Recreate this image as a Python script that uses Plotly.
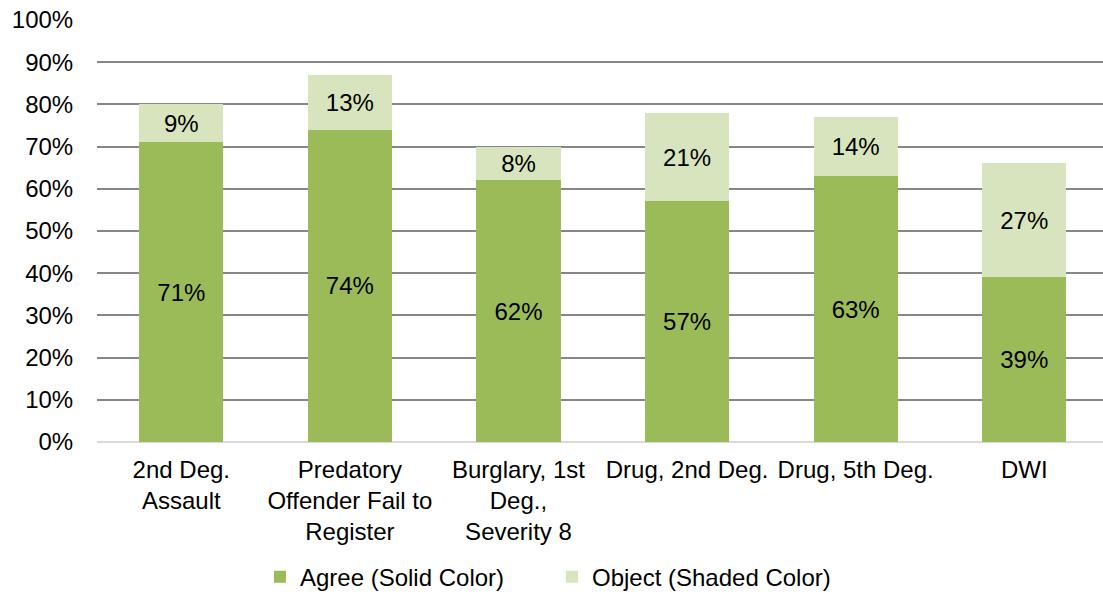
import plotly.graph_objects as go

categories = ["2nd Deg.<br>Assault", "Predatory<br>Offender Fail to<br>Register",
              "Burglary, 1st<br>Deg.,<br>Severity 8", "Drug, 2nd Deg.", "Drug, 5th Deg.", "DWI"]
agree = [71, 74, 62, 57, 63, 39]
obj = [9, 13, 8, 21, 14, 27]
yticks = list(range(0, 101, 10))

font = "Liberation Sans, Arial, sans-serif"
fig = go.Figure()
fig.add_trace(go.Bar(x=categories, y=agree, name="Agree (Solid Color)",
                     marker=dict(color="#9BBB59", line=dict(width=0)),
                     text=[f"{v}%" for v in agree], textposition="inside",
                     insidetextanchor="middle", textangle=0,
                     textfont=dict(size=24, color="black", family=font)))
fig.add_trace(go.Bar(x=categories, y=obj, name="Object (Shaded Color)",
                     marker=dict(color="#D7E4BD", line=dict(width=0)),
                     text=[f"{v}%" for v in obj], textposition="inside",
                     insidetextanchor="middle", textangle=0,
                     textfont=dict(size=24, color="black", family=font)))
fig.update_layout(
    barmode="stack", bargap=0.5,
    width=1103, height=595,
    margin=dict(l=97, r=0, t=20, b=153, autoexpand=False),
    plot_bgcolor="white", paper_bgcolor="white",
    font=dict(family=font, size=24, color="black"),
    uniformtext=dict(mode=False),
    showlegend=True,
    legend=dict(orientation="h", x=0.162, xanchor="left", y=-0.32, yanchor="middle",
                font=dict(size=24), traceorder="normal", itemwidth=30,
                entrywidth=247, entrywidthmode="pixels"),
    xaxis=dict(range=[-0.5, 5.467], tickfont=dict(size=24), showgrid=False,
               ticks="outside", ticklen=6,
               tickcolor="rgba(0,0,0,0)", showline=False),
    yaxis=dict(range=[0, 100], tickvals=yticks, ticktext=[f"{v}%" for v in yticks],
               showgrid=True, gridcolor="#878787", gridwidth=1.5,
               zeroline=True, zerolinecolor="#D9D9D9", zerolinewidth=2,
               tickfont=dict(size=24), ticks="outside", ticklen=18, tickcolor="rgba(0,0,0,0)"),
)
fig.write_html("out.html")
